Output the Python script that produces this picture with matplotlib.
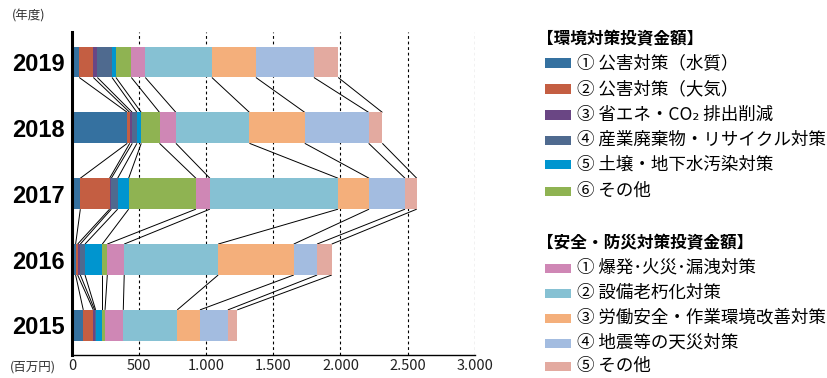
import matplotlib
matplotlib.use("Agg")
import matplotlib.pyplot as plt
from matplotlib.patches import Rectangle
import numpy as np

plt.rcParams['font.family'] = ['Noto Sans CJK JP', 'DejaVu Sans']

years = ['2015', '2016', '2017', '2018', '2019']

# 環境対策投資金額 (百万円)
water = [84, 27, 62, 412, 54]
air = [75, 15, 218, 18, 105]
energy = [10, 20, 13, 19, 30]
waste = [7, 35, 47, 35, 109]
soil = [50, 129, 82, 32, 29]
env_other = [20, 37, 501, 136, 115]
# 安全・防災対策投資金額 (百万円)
explosion = [136, 126, 104, 122, 104]
aging = [402, 700, 955, 548, 496]
labor = [169, 563, 231, 412, 328]
disaster = [208, 174, 268, 476, 432]
safety_other = [70, 109, 87, 102, 181]

env_labels = ['① 公害対策（水質）', '② 公害対策（大気）', '③ 省エネ・CO₂ 排出削減',
              '④ 産業廃棄物・リサイクル対策', '⑤ 土壌・地下水汚染対策', '⑥ その他']
safety_labels = ['① 爆発･火災･漏洩対策', '② 設備老朽化対策', '③ 労働安全・作業環境改善対策',
                 '④ 地震等の天災対策', '⑤ その他']
env_header = '【環境対策投資金額】'
safety_header = '【安全・防災対策投資金額】'
xticks = [0, 500, 1000, 1500, 2000, 2500, 3000]
xticklabels = ['0', '500', '1.000', '1.500', '2.000', '2.500', '3.000']

env_colors = ['#3571A0', '#C45E42', '#6A4684', '#4F6A8F', '#0095CF', '#8FB352']
safety_colors = ['#CF87B5', '#86C1D3', '#F4AF7B', '#A3BCE0', '#E3AAA0']

series = [water, air, energy, waste, soil, env_other,
          explosion, aging, labor, disaster, safety_other]
colors = env_colors + safety_colors

W, H = 828, 378
fig = plt.figure(figsize=(W / 100, H / 100), dpi=100)
ax = fig.add_axes([72 / W, 1 - 355 / H, (474.7 - 72) / W, (355 - 32) / H])

ypos = np.arange(len(years))
h = 0.47
left = np.zeros(len(years))
bounds = []
for vals, c in zip(series, colors):
    v = np.array(vals, dtype=float)
    ax.barh(ypos, v, left=left, height=h, color=c, edgecolor='none', zorder=3)
    left = left + v
    bounds.append(left.copy())

# connector lines between adjacent years
for i in range(len(years) - 1):
    lo, up = i, i + 1
    for b in bounds:
        ax.plot([b[up], b[lo]], [up - h / 2, lo + h / 2], color='black', lw=0.7,
                zorder=2, solid_capstyle='butt')

ax.set_xlim(0, 3000)
ax.set_ylim(-0.45, 4.456)
ax.set_yticks(ypos)
ax.set_yticklabels(years, fontsize=17, fontweight='bold', family=['Liberation Sans', 'DejaVu Sans'])
ax.set_xticks(xticks)
ax.set_xticklabels(xticklabels, fontsize=10.5, color='#222222')
ax.tick_params(axis='both', length=0)
ax.tick_params(axis='x', pad=3)
ax.tick_params(axis='y', pad=5)

for x in xticks[1:]:
    ax.axvline(x, color='black', lw=0.8, linestyle=(0, (2.5, 2.5)), zorder=1)

for s in ['top', 'right']:
    ax.spines[s].set_visible(False)
ax.spines['left'].set_linewidth(2.2)
ax.spines['bottom'].set_linewidth(1.0)
ax.spines['left'].set_zorder(5)

fig.text(12 / W, 1 - 16 / H, '(年度)', fontsize=9, color='#333333', va='center', ha='left')
fig.text(10 / W, 1 - 367 / H, '(百万円)', fontsize=9, color='#333333', va='center', ha='left')

# legend
def fy(y):
    return 1 - y / H

fig.text(537 / W, fy(39), env_header, fontsize=12, fontweight='bold', va='center', ha='left')
env_rows = [63, 89, 115, 140, 165, 191]
for y, lab, c in zip(env_rows, env_labels, env_colors):
    fig.patches.append(Rectangle((545 / W, fy(y + 4.5)), 26 / W, 9 / H, transform=fig.transFigure,
                                 facecolor=c, edgecolor='none'))
    fig.text(577 / W, fy(y), lab, fontsize=12.6, va='center', ha='left')

fig.text(537 / W, fy(243), safety_header, fontsize=12, fontweight='bold', va='center', ha='left')
safety_rows = [268, 293, 318, 343, 366]
for y, lab, c in zip(safety_rows, safety_labels, safety_colors):
    fig.patches.append(Rectangle((545 / W, fy(y + 4.5)), 26 / W, 9 / H, transform=fig.transFigure,
                                 facecolor=c, edgecolor='none'))
    fig.text(577 / W, fy(y), lab, fontsize=12.6, va='center', ha='left')

fig.savefig('out.png', dpi=100)
